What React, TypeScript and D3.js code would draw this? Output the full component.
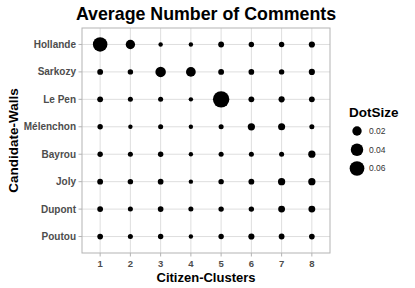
import React from "react";
import * as d3 from "d3";

// candidate walls (rows) and citizen clusters (columns)
const candidates = ["Hollande", "Sarkozy", "Le Pen", "Mélenchon", "Bayrou", "Joly", "Dupont", "Poutou"];
const clusters = ["1", "2", "3", "4", "5", "6", "7", "8"];

// average number of comments, one array per candidate, cluster 1..8
const hollande = [0.058, 0.02, 0.008, 0.008, 0.009, 0.0085, 0.0085, 0.0095];
const sarkozy = [0.009, 0.0085, 0.026, 0.022, 0.009, 0.0088, 0.0085, 0.0095];
const lePen = [0.009, 0.0082, 0.0082, 0.008, 0.078, 0.009, 0.0095, 0.009];
const melenchon = [0.0085, 0.008, 0.0082, 0.008, 0.0082, 0.012, 0.0115, 0.0082];
const bayrou = [0.0085, 0.0082, 0.0085, 0.008, 0.0082, 0.0082, 0.0082, 0.012];
const joly = [0.009, 0.0085, 0.0088, 0.008, 0.0085, 0.009, 0.012, 0.012];
const dupont = [0.009, 0.0082, 0.0088, 0.0082, 0.0085, 0.0085, 0.011, 0.011];
const poutou = [0.0088, 0.0082, 0.0085, 0.008, 0.0085, 0.0095, 0.009, 0.0088];

const legendBreaks = [0.02, 0.04, 0.06];

const rows = [hollande, sarkozy, lePen, melenchon, bayrou, joly, dupont, poutou];

const W = 415;
const H = 288;
const panel = { left: 82, right: 330, top: 28, bottom: 253 };
const FONT = "'Liberation Sans', Arial, Helvetica, sans-serif";

export default function App() {
  const cells = rows.flatMap((vals, i) =>
    vals.map((v, j) => ({ cand: candidates[i], cl: clusters[j], v }))
  );

  const x = d3.scalePoint().domain(clusters).range([panel.left, panel.right]).padding(0.6);
  const y = d3.scalePoint().domain(candidates).range([panel.top, panel.bottom]).padding(0.6);

  // ggplot-like area scale: rescale, sqrt, then map to radius range
  const [vMin, vMax] = d3.extent(cells, (d) => d.v) as [number, number];
  const t = d3.scaleLinear().domain([vMin, vMax]).range([0, 1]).clamp(true);
  const r = (v: number) => 2.2 + 6.0 * Math.sqrt(t(v));

  const legendY = d3.scalePoint<number>().domain(legendBreaks).range([131, 168.5]);

  return (
    <svg width={W} height={H} style={{ position: "absolute", left: 0, top: 0, background: "#fff" }} fontFamily={FONT}>
      <text x={(panel.left + panel.right) / 2} y={20} textAnchor="middle" fontSize={17.8} fontWeight="bold" fill="#000">
        Average Number of Comments
      </text>

      {/* grid */}
      {clusters.map((c) => (
        <line key={"gx" + c} x1={x(c)} x2={x(c)} y1={panel.top} y2={panel.bottom} stroke="#dedede" strokeWidth={1} />
      ))}
      {candidates.map((c) => (
        <line key={"gy" + c} x1={panel.left} x2={panel.right} y1={y(c)} y2={y(c)} stroke="#dedede" strokeWidth={1} />
      ))}

      {/* points */}
      {cells.map((d, i) => (
        <circle key={i} cx={x(d.cl)} cy={y(d.cand)} r={r(d.v)} fill="#000" />
      ))}

      <rect x={panel.left} y={panel.top} width={panel.right - panel.left} height={panel.bottom - panel.top} fill="none" stroke="#b3b3b3" strokeWidth={1} />

      {/* y axis */}
      {candidates.map((c) => (
        <g key={"ty" + c}>
          <line x1={panel.left - 3.5} x2={panel.left} y1={y(c)} y2={y(c)} stroke="#b3b3b3" />
          <text x={panel.left - 6} y={y(c)} dy="0.35em" textAnchor="end" fontSize={10} fontWeight="bold" fill="#4d4d4d">
            {c}
          </text>
        </g>
      ))}
      {/* x axis */}
      {clusters.map((c) => (
        <g key={"tx" + c}>
          <line x1={x(c)} x2={x(c)} y1={panel.bottom} y2={panel.bottom + 3.5} stroke="#b3b3b3" />
          <text x={x(c)} y={267} textAnchor="middle" fontSize={9.5} fontWeight="bold" fill="#4d4d4d">
            {c}
          </text>
        </g>
      ))}

      <text x={(panel.left + panel.right) / 2} y={282} textAnchor="middle" fontSize={13} fontWeight="bold" fill="#000">
        Citizen-Clusters
      </text>
      <text transform={`translate(18,${(panel.top + panel.bottom) / 2}) rotate(-90)`} textAnchor="middle" fontSize={13.5} fontWeight="bold" fill="#000">
        Candidate-Walls
      </text>

      {/* legend */}
      <text x={349} y={117} fontSize={13.5} fontWeight="bold" fill="#000">DotSize</text>
      {legendBreaks.map((b) => (
        <g key={"lg" + b}>
          <circle cx={357} cy={legendY(b)} r={r(b)} fill="#000" />
          <text x={369} y={legendY(b)} dy="0.35em" fontSize={8.5} fill="#333">
            {b.toFixed(2)}
          </text>
        </g>
      ))}
    </svg>
  );
}
